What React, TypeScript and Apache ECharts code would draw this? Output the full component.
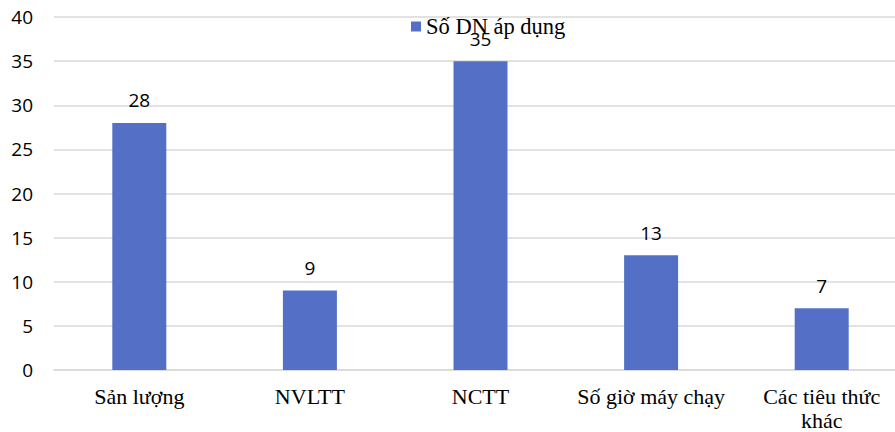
import React, { useEffect, useRef } from "react";
import * as echarts from "echarts";

const categories = ["Sản lượng", "NVLTT", "NCTT", "Số giờ máy chạy", "Các tiêu thức\nkhác"];
const seriesName = "Số DN áp dụng";
const values = [28, 9, 35, 13, 7];
const yMin = 0;
const yMax = 40;
const yInterval = 5;

export default function App() {
  const ref = useRef<HTMLDivElement>(null);
  useEffect(() => {
    const chart = echarts.init(ref.current!, null, { renderer: "svg" });
    chart.setOption({
      animation: false,
      backgroundColor: "#ffffff",
      legend: {
        data: [seriesName],
        left: 406,
        top: 10,
        icon: "rect",
        itemWidth: 10,
        itemHeight: 10,
        textStyle: { fontFamily: "Liberation Serif", fontSize: 22.5, color: "#000" },
      },
      grid: { left: 54, top: 17, width: 853, height: 353, outerBoundsMode: "none", containLabel: false },
      xAxis: {
        type: "category",
        data: categories,
        axisLine: { lineStyle: { color: "#d9d9d9", width: 1.5 } },
        axisTick: { show: false },
        axisLabel: {
          fontFamily: "Liberation Serif",
          fontSize: 22,
          color: "#000",
          margin: 14,
          lineHeight: 24,
          interval: 0,
        },
      },
      yAxis: {
        type: "value",
        min: yMin,
        max: yMax,
        interval: yInterval,
        axisLine: { show: false },
        axisTick: { show: false },
        splitLine: { lineStyle: { color: "#d9d9d9", width: 1.5 } },
        axisLabel: { fontFamily: "Open Sans", fontSize: 19, color: "#000", margin: 21 },
      },
      series: [
        {
          name: seriesName,
          type: "bar",
          data: values,
          barWidth: 54,
          itemStyle: { color: "#5470c6" },
          label: {
            show: true,
            position: "top",
            distance: 13,
            fontFamily: "Open Sans",
            fontSize: 19,
            color: "#000",
          },
        },
      ],
    });
    return () => chart.dispose();
  }, []);
  return <div ref={ref} style={{ width: 895, height: 432, position: "absolute", left: 0, top: 0 }} />;
}
